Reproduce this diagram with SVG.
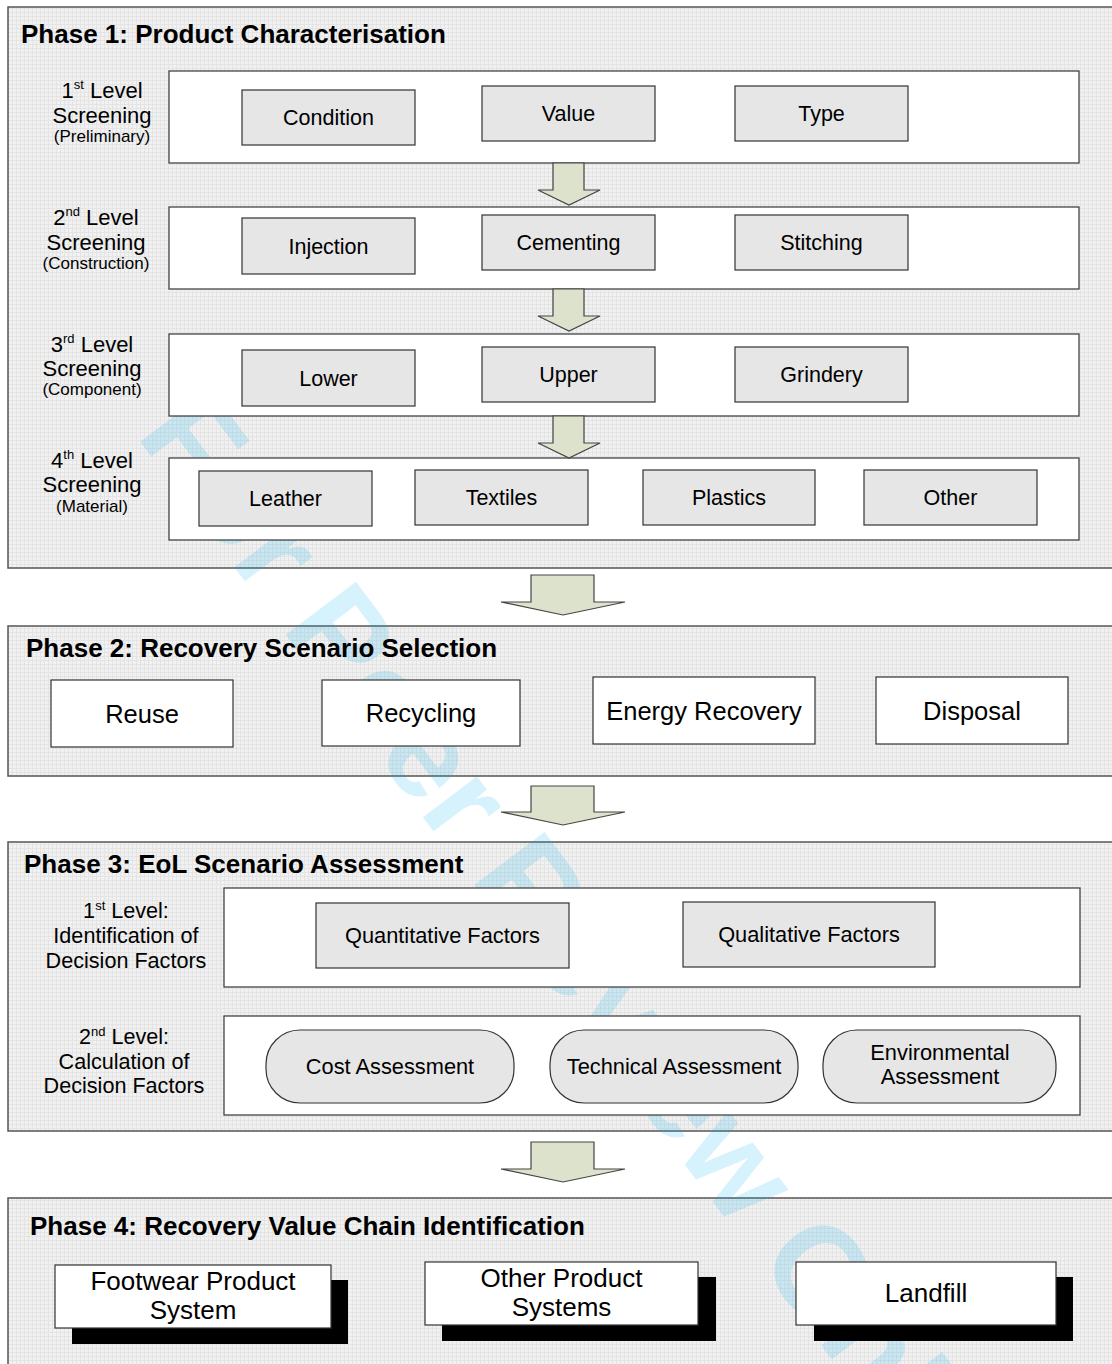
<svg xmlns="http://www.w3.org/2000/svg" width="1112" height="1364" viewBox="0 0 1112 1364">
<defs>
<pattern id="grid" width="4" height="4" patternUnits="userSpaceOnUse">
<rect width="4" height="4" fill="#f1f1f1"/>
<path d="M0 0.5H4M0.5 0V4" stroke="#e4e4e4" stroke-width="1"/>
</pattern>
<style>
.panel{fill:url(#grid);stroke:#555;stroke-width:1.5}
.lvl{fill:#fff;stroke:#444;stroke-width:1.3}
.gbox{fill:#e6e6e6;stroke:#333;stroke-width:1.2}
.wbox{fill:#fff;stroke:#333;stroke-width:1.2}
.shadow{fill:#000}
.arrow{fill:#dde2cc;stroke:#444;stroke-width:1.2;stroke-linejoin:miter}
text{font-family:"Liberation Sans",Arial,sans-serif;fill:#000}
.title{font-size:26px;font-weight:bold}
.lab{font-size:22px;text-anchor:middle}
.sub{font-size:17px;text-anchor:middle}
.lab3{font-size:21.6px;text-anchor:middle}
.bt{font-size:21.5px;text-anchor:middle}
.bt3{font-size:21.8px;text-anchor:middle}
.p2{font-size:25.5px;text-anchor:middle}
.p4{font-size:26px;text-anchor:middle}
.wm{font-size:128px;font-weight:bold;fill:#00aeef;fill-opacity:0.16}
</style>
</defs>
<rect width="1112" height="1364" fill="#fff"/>

<g id="phase1"><rect class="panel" x="8" y="7" width="1110" height="561"/></g>
<g id="phase2"><rect class="panel" x="8" y="626" width="1110" height="150"/></g>
<g id="phase3"><rect class="panel" x="8" y="842" width="1110" height="289"/></g>
<g id="phase4"><rect class="panel" x="8" y="1198" width="1110" height="180"/></g>

<text class="wm" transform="translate(135,435) rotate(53)">For Peer Review Only</text>

<g id="titles">
<text class="title" x="21" y="43">Phase 1: Product Characterisation</text>
<text class="title" x="26" y="657">Phase 2: Recovery Scenario Selection</text>
<text class="title" x="24" y="873">Phase 3: EoL Scenario Assessment</text>
<text class="title" x="30" y="1235">Phase 4: Recovery Value Chain Identification</text>
</g>

<g id="level1">
<rect class="lvl" x="169" y="71" width="910" height="92"/>
<text class="lab" x="102" y="98">1<tspan font-size="13" dy="-9">st</tspan><tspan dy="9"> Level</tspan></text>
<text class="lab" x="102" y="123">Screening</text>
<text class="sub" x="102" y="142">(Preliminary)</text>
</g>
<g id="condition"><rect class="gbox" x="242" y="90" width="173" height="55"/><text class="bt" x="328.5" y="125">Condition</text></g>
<g id="value"><rect class="gbox" x="482" y="86" width="173" height="55"/><text class="bt" x="568.5" y="121">Value</text></g>
<g id="type"><rect class="gbox" x="735" y="86" width="173" height="55"/><text class="bt" x="821.5" y="121">Type</text></g>

<g id="level2">
<rect class="lvl" x="169" y="207" width="910" height="82"/>
<text class="lab" x="96" y="225">2<tspan font-size="13" dy="-9">nd</tspan><tspan dy="9"> Level</tspan></text>
<text class="lab" x="96" y="250">Screening</text>
<text class="sub" x="96" y="269">(Construction)</text>
</g>
<g id="injection"><rect class="gbox" x="242" y="218" width="173" height="56"/><text class="bt" x="328.5" y="253.5">Injection</text></g>
<g id="cementing"><rect class="gbox" x="482" y="215" width="173" height="55"/><text class="bt" x="568.5" y="250">Cementing</text></g>
<g id="stitching"><rect class="gbox" x="735" y="215" width="173" height="55"/><text class="bt" x="821.5" y="250">Stitching</text></g>

<g id="level3">
<rect class="lvl" x="169" y="334" width="910" height="82"/>
<text class="lab" x="92" y="352">3<tspan font-size="13" dy="-9">rd</tspan><tspan dy="9"> Level</tspan></text>
<text class="lab" x="92" y="376">Screening</text>
<text class="sub" x="92" y="395">(Component)</text>
</g>
<g id="lower"><rect class="gbox" x="242" y="350" width="173" height="56"/><text class="bt" x="328.5" y="385.5">Lower</text></g>
<g id="upper"><rect class="gbox" x="482" y="347" width="173" height="55"/><text class="bt" x="568.5" y="382">Upper</text></g>
<g id="grindery"><rect class="gbox" x="735" y="347" width="173" height="55"/><text class="bt" x="821.5" y="382">Grindery</text></g>

<g id="level4">
<rect class="lvl" x="169" y="458" width="910" height="82"/>
<text class="lab" x="92" y="468">4<tspan font-size="13" dy="-9">th</tspan><tspan dy="9"> Level</tspan></text>
<text class="lab" x="92" y="492">Screening</text>
<text class="sub" x="92" y="512">(Material)</text>
</g>
<g id="leather"><rect class="gbox" x="199" y="471" width="173" height="55"/><text class="bt" x="285.5" y="506">Leather</text></g>
<g id="textiles"><rect class="gbox" x="415" y="470" width="173" height="55"/><text class="bt" x="501.5" y="505">Textiles</text></g>
<g id="plastics"><rect class="gbox" x="643" y="470" width="172" height="55"/><text class="bt" x="729" y="505">Plastics</text></g>
<g id="other"><rect class="gbox" x="864" y="470" width="173" height="55"/><text class="bt" x="950.5" y="505">Other</text></g>

<g id="reuse"><rect class="wbox" x="51" y="680" width="182" height="67"/><text class="p2" x="142" y="722.5">Reuse</text></g>
<g id="recycling"><rect class="wbox" x="322" y="680" width="198" height="66"/><text class="p2" x="421" y="722">Recycling</text></g>
<g id="energy"><rect class="wbox" x="593" y="677" width="222" height="67"/><text class="p2" x="704" y="719.5">Energy Recovery</text></g>
<g id="disposal"><rect class="wbox" x="876" y="677" width="192" height="67"/><text class="p2" x="972" y="719.5">Disposal</text></g>

<g id="p3level1">
<rect class="lvl" x="224" y="888" width="856" height="99"/>
<text class="lab3" x="126" y="918">1<tspan font-size="13" dy="-8">st</tspan><tspan dy="8"> Level:</tspan></text>
<text class="lab3" x="126" y="943">Identification of</text>
<text class="lab3" x="126" y="968">Decision Factors</text>
</g>
<g id="quantitative"><rect class="gbox" x="316" y="903" width="253" height="65"/><text class="bt3" x="442.5" y="943">Quantitative Factors</text></g>
<g id="qualitative"><rect class="gbox" x="683" y="902" width="252" height="65"/><text class="bt3" x="809" y="942">Qualitative Factors</text></g>

<g id="p3level2">
<rect class="lvl" x="224" y="1016" width="856" height="99"/>
<text class="lab3" x="124" y="1044">2<tspan font-size="13" dy="-8">nd</tspan><tspan dy="8"> Level:</tspan></text>
<text class="lab3" x="124" y="1069">Calculation of</text>
<text class="lab3" x="124" y="1093">Decision Factors</text>
</g>
<g id="cost"><rect class="gbox" x="266" y="1030" width="248" height="73" rx="34"/><text class="bt3" x="390" y="1074">Cost Assessment</text></g>
<g id="technical"><rect class="gbox" x="550" y="1030" width="248" height="73" rx="34"/><text class="bt3" x="674" y="1074">Technical Assessment</text></g>
<g id="environmental"><rect class="gbox" x="823" y="1030" width="233" height="73" rx="34"/><text class="bt3" x="940" y="1060">Environmental</text><text class="bt3" x="940" y="1084">Assessment</text></g>

<g id="footwear"><rect class="shadow" x="72" y="1280" width="276" height="64"/><rect class="wbox" x="55" y="1265" width="276" height="63"/><text class="p4" x="193" y="1290">Footwear Product</text><text class="p4" x="193" y="1319">System</text></g>
<g id="otherproduct"><rect class="shadow" x="442" y="1277" width="274" height="64"/><rect class="wbox" x="425" y="1262" width="273" height="63"/><text class="p4" x="561.5" y="1287">Other Product</text><text class="p4" x="561.5" y="1316">Systems</text></g>
<g id="landfill"><rect class="shadow" x="814" y="1277" width="259" height="64"/><rect class="wbox" x="796" y="1262" width="260" height="63"/><text class="p4" x="926" y="1302">Landfill</text></g>

<g id="connectors">
<polygon class="arrow" points="553,163 584,163 584,190 600,190 569,205 538,190 553,190"/>
<polygon class="arrow" points="553,289 584,289 584,316 600,316 569,331 538,316 553,316"/>
<polygon class="arrow" points="553,416 584,416 584,443 600,443 569,458 538,443 553,443"/>
<polygon class="arrow" points="531,575 594,575 594,602 625,602 563,615 501,602 531,602"/>
<polygon class="arrow" points="531,786 594,786 594,812 625,812 563,825 501,812 531,812"/>
<polygon class="arrow" points="531,1142 594,1142 594,1169 625,1169 563,1182 501,1169 531,1169"/>
</g>
</svg>
